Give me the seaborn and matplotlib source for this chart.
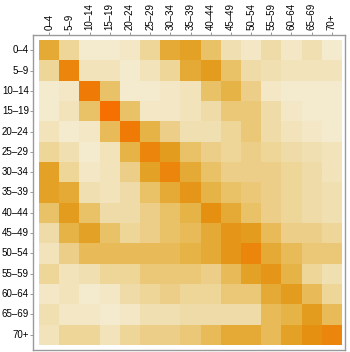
import numpy as np
import pandas as pd
import matplotlib
matplotlib.use("Agg")
import matplotlib.pyplot as plt
from matplotlib.colors import LinearSegmentedColormap
import seaborn as sns

age_groups = ["0–4", "5–9", "10–14", "15–19", "20–24", "25–29", "30–34", "35–39",
              "40–44", "45–49", "50–54", "55–59", "60–64", "65–69", "70+"]

row_0_4   = [6.5, 3.5, 1.0, 1.0, 1.5, 3.5, 6.5, 7.0, 5.0, 2.5, 1.5, 3.0, 1.5, 2.5, 1.0]
row_5_9   = [3.5, 9.0, 2.0, 2.0, 1.0, 2.0, 3.5, 6.5, 7.5, 5.0, 3.0, 2.5, 2.0, 2.0, 2.0]
row_10_14 = [1.0, 1.5, 9.5, 5.0, 1.0, 1.0, 1.5, 2.0, 5.0, 6.0, 4.0, 1.5, 1.0, 1.0, 1.0]
row_15_19 = [1.0, 2.0, 5.0, 10.0, 5.0, 1.5, 1.5, 2.0, 3.0, 4.5, 4.5, 3.0, 1.5, 1.0, 1.0]
row_20_24 = [2.0, 1.0, 1.5, 5.5, 9.5, 6.0, 4.0, 2.5, 2.5, 3.5, 4.5, 3.0, 2.0, 1.5, 1.0]
row_25_29 = [3.5, 2.5, 1.0, 2.0, 6.0, 9.0, 7.5, 5.0, 4.0, 3.5, 4.0, 3.5, 3.0, 2.5, 2.0]
row_30_34 = [7.0, 3.5, 1.5, 2.0, 4.0, 7.0, 9.0, 6.5, 5.0, 4.0, 4.0, 4.0, 3.5, 3.0, 2.0]
row_35_39 = [7.0, 6.5, 2.5, 2.0, 3.0, 5.0, 6.5, 8.0, 6.0, 5.0, 4.5, 4.0, 3.5, 3.0, 2.5]
row_40_44 = [5.0, 7.5, 5.0, 3.0, 3.0, 4.0, 5.0, 6.0, 8.5, 6.5, 5.0, 4.0, 3.5, 3.0, 2.5]
row_45_49 = [3.0, 6.0, 7.0, 5.0, 3.5, 4.0, 5.0, 5.5, 6.5, 8.0, 7.5, 5.5, 4.0, 4.0, 3.5]
row_50_54 = [2.0, 4.0, 5.5, 5.5, 5.5, 5.5, 5.5, 6.0, 6.5, 8.0, 9.0, 6.5, 5.5, 4.5, 4.5]
row_55_59 = [3.5, 2.0, 2.5, 3.5, 3.5, 4.5, 4.5, 4.5, 4.0, 5.5, 7.0, 8.0, 6.0, 3.5, 2.5]
row_60_64 = [1.5, 2.0, 1.0, 1.5, 3.0, 3.5, 4.0, 3.5, 3.5, 4.5, 4.5, 6.5, 7.5, 5.5, 3.5]
row_65_69 = [2.5, 1.5, 1.5, 1.0, 1.5, 2.5, 2.5, 3.0, 3.0, 3.0, 3.0, 5.5, 6.0, 7.5, 5.5]
row_70p   = [2.0, 3.5, 3.5, 2.0, 3.5, 4.0, 4.0, 4.5, 5.5, 6.5, 6.5, 5.5, 7.0, 8.5, 9.0]

rows = [row_0_4, row_5_9, row_10_14, row_15_19, row_20_24, row_25_29, row_30_34,
        row_35_39, row_40_44, row_45_49, row_50_54, row_55_59, row_60_64,
        row_65_69, row_70p]
df = pd.DataFrame(rows, index=age_groups, columns=age_groups)

cmap = LinearSegmentedColormap.from_list(
    "contact",
    [(0.0, "#F7F2E1"), (0.3, "#EFDBA8"), (0.55, "#E8BB58"),
     (0.7, "#E3A226"), (0.85, "#E69012"), (1.0, "#F57000")])

plt.rcParams["font.family"] = ["Liberation Sans", "DejaVu Sans"]

fig = plt.figure(figsize=(3.5, 3.52), dpi=100)
ax = fig.add_axes([33/350, 1-350/352, 312/350, 315/352])
sns.heatmap(df, ax=ax, cmap=cmap, vmin=0, vmax=10, cbar=False,
            xticklabels=True, yticklabels=True)
ax.set_xlim(-0.3, 15.15)
ax.set_ylim(15.25, -0.25)
for s in ax.spines.values():
    s.set_visible(True)
    s.set_color("#9a9a9a")
    s.set_linewidth(1.0)
ax.xaxis.tick_top()
ax.tick_params(axis="x", rotation=90, labelsize=7, length=2, width=0.6,
               color="#888888", pad=1.5)
ax.tick_params(axis="y", rotation=0, labelsize=7, length=2, width=0.6,
               color="#888888", pad=1)
ax.set_xlabel("")
ax.set_ylabel("")
fig.savefig("out.png", dpi=100)
